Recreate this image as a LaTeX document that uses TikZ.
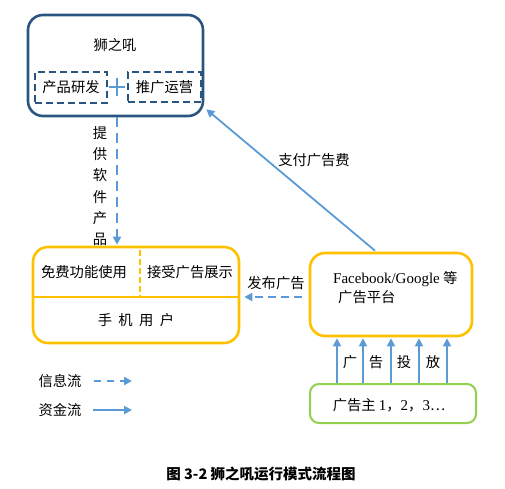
\documentclass[tikz,border=0pt]{standalone}
\usepackage{fontspec}
\setmainfont{Noto Sans CJK SC}
\newfontfamily\lat{Liberation Serif}
\usetikzlibrary{arrows.meta,calc}
\definecolor{dblue}{HTML}{2A5580}
\definecolor{ayel}{HTML}{FFC000}
\definecolor{agreen}{HTML}{92D050}
\definecolor{ablue}{HTML}{5B9BD5}
\begin{document}
\begin{tikzpicture}[x=1pt,y=-1pt,
  txt/.style={font=\fontsize{14.3}{16}\selectfont, inner sep=0pt},
  box/.style={draw, rounded corners=15pt, line width=2.6pt},
  dbox/.style={draw=dblue, dash pattern=on 7pt off 4pt, line width=2pt, minimum width=#1, minimum height=30pt, inner sep=0pt},
  infoarrow/.style={draw=ablue, line width=2.2pt, dash pattern=on 8pt off 5pt, -{Triangle[length=8pt,width=8pt]}},
  cashflow/.style={draw=ablue, line width=1.8pt, -{Triangle[length=8pt,width=8pt]}}
]
\useasboundingbox (0,0) rectangle (505,488);
% top box
\node[box, draw=dblue, minimum width=175pt, minimum height=101pt] (top) at (115.5,65.5) {};
\node[txt] (tname) at (115,45) {狮之吼};
\node[dbox=72pt, txt, minimum height=31pt] (pd) at (71,87.5) {产品研发};
\node[dbox=73pt, txt, minimum height=30pt] (tg) at (164.5,87) {推广运营};
\coordinate (plusc) at (117,87);
\draw[ablue, line width=2pt] ($(plusc)+(-8,0)$) -- ($(plusc)+(8,0)$);
\draw[ablue, line width=2pt] ($(plusc)+(0,-9)$) -- ($(plusc)+(0,9)$);
% user box
\node[box, draw=ayel, minimum width=206pt, minimum height=96pt] (user) at (136,295) {};
\draw[ayel, line width=2.6pt] (user.west |- 0,297) -- (user.east |- 0,297);
\draw[ayel, line width=2.6pt, dash pattern=on 6pt off 3pt] (140,250) -- (140,297);
\node[txt] (free) at (84,272) {免费功能使用};
\node[txt] (accept) at (190,272) {接受广告展示};
\node[txt] (mu) at (136,320) {手\ \ 机\ \ 用\ \ 户};
% platform
\node[box, draw=ayel, minimum width=162pt, minimum height=83pt] (plat) at (391,294.5) {};
\node[txt, anchor=west] (pl1) at (333,279) {{\lat\fontsize{15}{16}\selectfont Facebook/Google} 等};
\node[txt, anchor=west] (pl2) at (338,297) {广告平台};
% advertisers
\node[draw=agreen, rounded corners=9pt, line width=2pt, minimum width=166pt, minimum height=39pt] (adv) at (393,403.5) {};
\node[txt] (advt) at (389,405) {广告主 {\lat\fontsize{15}{16}\selectfont 1}，{\lat\fontsize{15}{16}\selectfont 2}，{\lat\fontsize{15}{16}\selectfont 3}…};
% arrows
\draw[infoarrow, dash pattern=on 10pt off 6pt] (top.south -| 117,0) -- ($(user.north -| 117,0)+(0,-1)$);
\node[txt, align=center, font=\fontsize{14.3}{21.3}\selectfont] (prov) at (100,186) {提\\供\\软\\件\\产\\品};
\draw[infoarrow] ($(plat.west)+(-7,2.5)$) -- ($(user.east)+(4,2)$);
\node[txt] (pub) at (276,283) {发布广告};
\draw[cashflow] ($(plat.north)+(-16,-1)$) -- ($(top.south east)+(2,-8)$);
\node[txt] (pay) at (314,160) {支付广告费};
\foreach \dx in {-56,-30,-2,26,54}{
  \draw[cashflow] ($(adv.north)+(\dx,0)$) -- ($(adv.north |- plat.south)+(\dx,1)$);
}
\node[txt] (l1) at (350,362) {广};
\node[txt] (l2) at (376,362) {告};
\node[txt] (l3) at (404,362) {投};
\node[txt] (l4) at (433,362) {放};
% legend
\node[txt] (lg1) at (60,381) {信息流};
\coordinate (a1s) at (94,381);
\coordinate (a1e) at (132,381);
\draw[infoarrow, dash pattern=on 7pt off 6pt] (a1s) -- (a1e);
\node[txt] (lg2) at (60,410) {资金流};
\coordinate (a2s) at (93,410);
\coordinate (a2e) at (132,410);
\draw[cashflow] (a2s) -- (a2e);
% caption
\node[txt, font=\fontsize{14.5}{16}\selectfont\bfseries] (cap) at (261,474) {图 3-2 狮之吼运行模式流程图};
\end{tikzpicture}
\end{document}
